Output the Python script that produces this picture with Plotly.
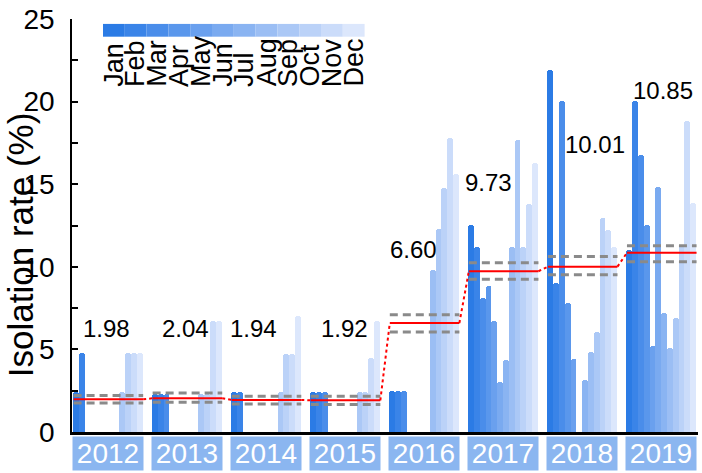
import plotly.graph_objects as go

# ---------------- data ----------------
years = ["2012", "2013", "2014", "2015", "2016", "2017", "2018", "2019"]
months = ["Jan", "Feb", "Mar", "Apr", "May", "Jun", "Jul", "Aug", "Sep", "Oct", "Nov", "Dec"]

rate_2012 = [2.4, 4.8, 0, 0, 0, 0, 0, 0, 2.4, 4.8, 4.8, 4.8]
rate_2013 = [2.3, 2.3, 2.3, 0, 0, 0, 0, 0, 2.3, 2.3, 6.7, 6.7]
rate_2014 = [2.4, 2.4, 0, 0, 0, 0, 0, 0, 2.4, 4.7, 4.7, 7.0]
rate_2015 = [2.4, 2.4, 2.4, 0, 0, 0, 0, 0, 2.4, 2.4, 4.5, 6.7]
rate_2016 = [2.5, 2.5, 2.5, 0, 0, 0, 0, 9.8, 12.3, 14.8, 17.8, 15.6]
rate_2017 = [12.55, 11.2, 8.1, 8.85, 6.7, 3.0, 4.35, 11.2, 17.7, 11.2, 13.8, 16.3]
rate_2018 = [21.9, 9.0, 20.05, 7.8, 4.4, 0, 3.15, 4.85, 6.07, 12.97, 12.2, 11.2]
rate_2019 = [11.0, 20.05, 16.75, 12.55, 5.2, 14.85, 7.2, 5.1, 6.93, 11.33, 18.8, 13.85]
rates = [rate_2012, rate_2013, rate_2014, rate_2015, rate_2016, rate_2017, rate_2018, rate_2019]

year_mean = [1.98, 2.04, 1.94, 1.92, 6.60, 9.73, 10.01, 10.85]
ci_upper = [2.21, 2.36, 2.16, 2.16, 7.10, 10.25, 10.62, 11.28]
ci_lower = [1.75, 1.80, 1.70, 1.66, 6.05, 9.25, 9.52, 10.30]

# label anchor positions (value axis) for the mean labels
label_y = [6.25, 6.25, 6.25, 6.25, 11.07, 15.1, 17.38, 20.7]

month_colors = ["#2B7BE5", "#3A84E8", "#4A8DEA", "#5A97EC", "#6AA0EE", "#7AAAF0",
                "#8AB4F2", "#9BBEF4", "#ABC8F6", "#BBD2F8", "#CBDCFA", "#DCE7FC"]

# ---------------- geometry helpers ----------------
W, H = 702, 473
L, R, T, B = 72, 4, 12, 41
PW, PH = W - L - R, H - T - B
PERIOD = 13.63          # group spacing in bar units
BARPX = 5.8             # px per bar unit
X0 = -1.0 / BARPX
X1 = X0 + PW / BARPX


def px_x(p):
    return (p - L) / PW


def px_y(p):
    return (H - B - p) / PH


FONT = "Arial, Liberation Sans, sans-serif"

fig = go.Figure()

# bars
xs, ys, cs = [], [], []
for g, vals in enumerate(rates):
    for m, v in enumerate(vals):
        xs.append(g * PERIOD + m + 0.5)
        ys.append(v)
        cs.append(month_colors[m])
fig.add_trace(go.Bar(x=xs, y=ys, width=1, marker=dict(color=cs, line=dict(width=0)),
                     showlegend=False, hoverinfo="skip"))

# mean + CI lines
for g in range(len(years)):
    xa, xb = g * PERIOD + 0.1, g * PERIOD + 12.1
    for v in (ci_upper[g], ci_lower[g]):
        fig.add_trace(go.Scatter(x=[xa, xb], y=[v, v], mode="lines",
                                 line=dict(color="#8a8a8a", width=3, dash="8px,5px"),
                                 showlegend=False, hoverinfo="skip"))
    fig.add_trace(go.Scatter(x=[xa, xb], y=[year_mean[g], year_mean[g]], mode="lines",
                             line=dict(color="#ff0000", width=2),
                             showlegend=False, hoverinfo="skip"))
    if g < len(years) - 1:
        fig.add_trace(go.Scatter(x=[xb, (g + 1) * PERIOD + 0.1],
                                 y=[year_mean[g], year_mean[g + 1]], mode="lines",
                                 line=dict(color="#ff0000", width=2, dash="3px,3px"),
                                 showlegend=False, hoverinfo="skip"))

annotations = []
# mean labels
label_x = [106.5, 185, 253, 344, 413.7, 488, 595, 663]
for g in range(len(years)):
    annotations.append(dict(x=px_x(label_x[g]), y=label_y[g], xref="paper", yref="y",
                            text=f"{year_mean[g]:.2f}", showarrow=False,
                            font=dict(family=FONT, size=24, color="black"),
                            xanchor="center", yanchor="middle"))

# year boxes
for g, yr in enumerate(years):
    annotations.append(dict(x=g * PERIOD + 6, y=px_y(453.5), xref="x", yref="paper",
                            text=yr, showarrow=False, width=68, height=31,
                            bgcolor="#8BB6F0", borderpad=1,
                            font=dict(family=FONT, size=28, color="white"),
                            xanchor="center", yanchor="middle"))

# y title
annotations.append(dict(x=px_x(20), y=px_y(242), xref="paper", yref="paper",
                        text="Isolation rate (%)", textangle=-90, showarrow=False,
                        font=dict(family=FONT, size=35, color="black"),
                        xanchor="center", yanchor="middle"))

# month legend
shapes = []
seg = 21.8
lx0 = 103
for m, name in enumerate(months):
    shapes.append(dict(type="rect", xref="paper", yref="paper",
                       x0=px_x(lx0 + m * seg), x1=px_x(lx0 + (m + 1) * seg),
                       y0=px_y(30), y1=px_y(17),
                       fillcolor=month_colors[m], line=dict(width=0)))
    annotations.append(dict(x=px_x(lx0 + (m + 0.5) * seg), y=px_y(83), xref="paper", yref="paper",
                            text=name, textangle=-90, showarrow=False,
                            font=dict(family=FONT, size=27, color="black"),
                            xanchor="center", yanchor="bottom"))

fig.update_layout(
    width=W, height=H,
    margin=dict(l=L, r=R, t=T, b=B, pad=0),
    paper_bgcolor="white", plot_bgcolor="white",
    barcornerradius=3,
    bargap=0,
    annotations=annotations,
    shapes=shapes,
    xaxis=dict(range=[X0, X1], showgrid=False, zeroline=False, showticklabels=False,
               ticks="", showline=True, linecolor="black", linewidth=2.5, fixedrange=True),
    yaxis=dict(range=[0, 25], showgrid=False, zeroline=False, showline=True,
               linecolor="black", linewidth=1.5, ticks="inside", ticklen=6, tickwidth=1.5,
               tickcolor="black", tickvals=[0, 5, 10, 15, 20, 25],
               ticklabelstandoff=10, ticklabeloverflow="allow",
               tickfont=dict(family=FONT, size=28, color="black"),
               minor=dict(ticks="inside", ticklen=6, tickwidth=1.5, tickcolor="black",
                          tickvals=[2.5, 7.5, 12.5, 17.5, 22.5]),
               fixedrange=True),
)

fig.write_html("out.html", config={"displayModeBar": False},
               post_script="document.body.style.margin='0';document.body.style.overflow='hidden';")
